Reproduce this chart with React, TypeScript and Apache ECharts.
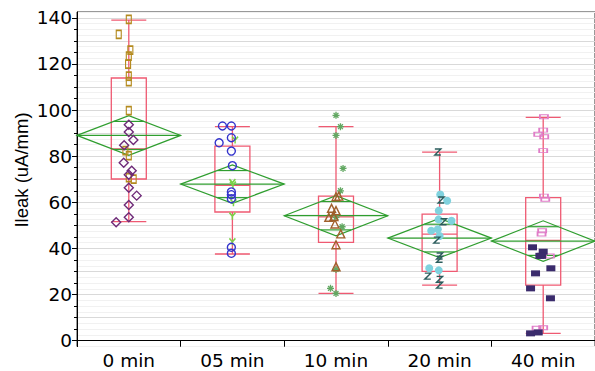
import React, { useEffect, useRef } from "react";
import * as echarts from "echarts";

const categories = ["0 min", "05 min", "10 min", "20 min", "40 min"];
const whiskerLow = [51.6, 37.6, 20.5, 24.1, 3.2];
const q1 = [70.1, 55.8, 42.6, 30.1, 24.1];
const median = [83.2, 67.4, 53.7, 46.2, 43.5];
const q3 = [113.9, 84.4, 62.7, 54.9, 62.0];
const whiskerHigh = [139.0, 92.8, 92.8, 81.8, 96.8];
const means = [89.0, 67.9, 54.2, 44.5, 43.2];
const ciHalf = [8.6, 8.3, 8.7, 8.5, 8.8];
const yTickLabels = [0, 20, 40, 60, 80, 100, 120, 140];
const yMinorTicks = [0, 5, 10, 15, 20, 25, 30, 35, 40, 45, 50, 55, 60, 65, 70, 75, 80, 85, 90, 95, 100, 105, 110, 115, 120, 125, 130, 135, 140];
const yTitle = "Ileak (uA/mm)";

// 0 min
const goldSquareValues = [139.3, 132.8, 126.0, 123.4, 119.9, 114.7, 112.3, 99.7, 82.4, 80.2, 70.7, 70.1];
const goldSquareJitter = [0, -0.097, 0.015, 0, -0.007, 0, 0, 0, -0.033, 0, 0, 0.047];
const purpleDiamondValues = [93.6, 90.5, 87.0, 84.7, 77.2, 73.7, 72.0, 66.3, 62.9, 58.8, 53.5, 51.4];
const purpleDiamondJitter = [0, 0, 0.044, -0.045, -0.049, 0.028, 0, 0, 0.076, 0, 0, -0.122];
// 05 min
const blueCircleValues = [93.1, 93.1, 88.0, 85.8, 82.2, 75.9, 64.5, 63.3, 61.6, 40.5, 37.9];
const blueCircleJitter = [-0.096, -0.01, -0.01, -0.128, -0.01, 0, -0.01, -0.01, -0.01, -0.01, -0.01];
const greenYValues = [87.0, 68.5, 67.5, 59.8, 54.0, 42.9];
const greenYJitter = [0.026, 0, 0.005, 0.01, 0, 0];
// 10 min
const asteriskValues = [97.7, 92.8, 89.0, 74.7, 65.0, 53.5, 49.4, 30.9, 22.7, 20.5];
const asteriskJitter = [0, 0.043, 0, 0.068, 0.043, 0, 0.059, 0, -0.053, 0];
const triangleValues = [62.4, 62.7, 57.4, 56.4, 53.5, 53.8, 50.6, 46.3, 41.6, 32.1];
const triangleJitter = [0, 0.027, -0.043, 0, -0.069, -0.02, -0.01, 0.046, 0, 0];
// 20 min
const zValues = [81.8, 61.0, 51.6, 43.6, 36.7, 35.3, 28.0, 26.6, 24.1];
const zJitter = [-0.017, 0.015, 0.038, -0.027, 0, 0, -0.114, 0, 0];
const cyanValues = [63.4, 60.7, 56.4, 52.6, 52.0, 47.7, 48.3, 45.4, 31.4, 30.5];
const cyanJitter = [0.006, 0.073, -0.008, -0.01, 0.115, -0.081, -0.017, 0, -0.1, -0.008];
// 40 min
const pinkRectValues = [97.1, 91.3, 89.5, 88.4, 82.4, 62.7, 61.3, 47.7, 46.3, 36.7, 5.6, 5.4];
const pinkRectJitter = [0.007, 0, -0.048, 0.01, 0, 0.007, 0.02, -0.01, -0.016, 0.064, 0, -0.064];
const navyRectValues = [40.5, 38.6, 36.8, 36.8, 31.4, 29.2, 22.7, 18.4, 3.2, 3.6];
const navyRectJitter = [-0.103, 0, -0.016, -0.032, 0.074, -0.074, -0.122, 0.07, -0.122, -0.048];

const GREEN = "#2f9e2f";
const RED = "#ef5a72";
const FONT = "DejaVu Sans, Verdana, sans-serif";

const pts = (cat: number, values: number[], jitter: number[]) =>
  values.map((v, i) => [cat + jitter[i], v]);

const markerGroups = [
  { cat: 0, values: goldSquareValues, jitter: goldSquareJitter, symbol: "rect", size: [5, 8], fill: "rgba(0,0,0,0)", stroke: "#b48a1e", bw: 1.4 },
  { cat: 0, values: purpleDiamondValues, jitter: purpleDiamondJitter, symbol: "diamond", size: [9, 9], fill: "rgba(0,0,0,0)", stroke: "#6e2a78", bw: 1.4 },
  { cat: 1, values: greenYValues, jitter: greenYJitter, symbol: "path://M0,0L5,5L10,0M5,5L5,10", size: [6, 7], fill: "rgba(0,0,0,0)", stroke: "#79d246", bw: 1.6 },
  { cat: 1, values: blueCircleValues, jitter: blueCircleJitter, symbol: "circle", size: [8, 8], fill: "rgba(0,0,0,0)", stroke: "#3434cc", bw: 1.4 },
  { cat: 2, values: asteriskValues, jitter: asteriskJitter, symbol: "path://M5,0L5,10M0,5L10,5M1.5,1.5L8.5,8.5M1.5,8.5L8.5,1.5", size: [7, 7], fill: "rgba(0,0,0,0)", stroke: "#62a862", bw: 1.3 },
  { cat: 2, values: triangleValues, jitter: triangleJitter, symbol: "triangle", size: [8, 8], fill: "rgba(0,0,0,0)", stroke: "#a0602c", bw: 1.4 },
  { cat: 3, values: cyanValues, jitter: cyanJitter, symbol: "circle", size: [8, 8], fill: "#80d2de", stroke: "#80d2de", bw: 0 },
  { cat: 3, values: zValues, jitter: zJitter, symbol: "path://M1,1L9,1L1,9L9,9", size: [6, 6], fill: "rgba(0,0,0,0)", stroke: "#2a5c5c", bw: 1.4 },
  { cat: 4, values: pinkRectValues, jitter: pinkRectJitter, symbol: "rect", size: [8, 4], fill: "rgba(0,0,0,0)", stroke: "#e07cc8", bw: 1.3 },
  { cat: 4, values: navyRectValues, jitter: navyRectJitter, symbol: "rect", size: [9, 6], fill: "#3a2b6c", stroke: "#3a2b6c", bw: 0 },
];

export default function App() {
  const ref = useRef<HTMLDivElement>(null);
  useEffect(() => {
    document.body.style.margin = "0";
    if (!ref.current) return;
    const chart = echarts.init(ref.current, null, { renderer: "svg" });
    const yBase = { type: "value", min: -2.5, max: 142.5, position: "left" };
    const option: any = {
      animation: false,
      backgroundColor: "#ffffff",
      textStyle: { fontFamily: FONT },
      grid: { left: 77, top: 12, width: 520, bottom: 24.5, containLabel: false, show: true, borderColor: "#333", borderWidth: 1, backgroundColor: "rgba(0,0,0,0)" },
      graphic: [
        {
          type: "text",
          x: 21,
          y: 170,
          rotation: Math.PI / 2,
          style: { text: yTitle, fill: "#000", font: "18.5px Liberation Sans, Arial, sans-serif", textAlign: "center", textVerticalAlign: "middle" },
        },
      ],
      xAxis: [
        {
          type: "category",
          data: categories,
          boundaryGap: true,
          axisLine: { show: true, lineStyle: { color: "#000", width: 1 } },
          axisTick: { show: true, length: 6, lineStyle: { color: "#000" } },
          axisLabel: { color: "#000", fontSize: 18.5, margin: 4, fontFamily: FONT },
          splitLine: { show: false },
        },
        { type: "value", min: -0.5, max: 4.5, show: false },
      ],
      yAxis: [
        {
          ...yBase,
          interval: 2.5,
          axisLine: { show: false },
          axisTick: { show: false },
          axisLabel: { show: false },
          splitLine: {
            show: true,
            lineStyle: { color: ["#f1f1f1", "#d9d9d9", "#f1f1f1", "#f1f1f1"], width: 1 },
          },
        },
        {
          ...yBase,
          axisLine: { show: true, lineStyle: { color: "#000", width: 1 } },
          axisTick: { show: true, length: 3, customValues: yMinorTicks, lineStyle: { color: "#000" } },
          axisLabel: { show: false },
          splitLine: { show: false },
        },
        {
          ...yBase,
          axisLine: { show: false },
          axisTick: { show: true, length: 5, customValues: yTickLabels, lineStyle: { color: "#000" } },
          axisLabel: { show: true, customValues: yTickLabels, fontSize: 18.5, color: "#000", margin: 5, fontFamily: FONT },
          splitLine: { show: false },
        },
      ],
      series: [
        {
          type: "boxplot",
          xAxisIndex: 0,
          yAxisIndex: 0,
          boxWidth: [35, 35],
          data: categories.map((_, i) => [whiskerLow[i], q1[i], median[i], q3[i], whiskerHigh[i]]),
          itemStyle: { color: "rgba(0,0,0,0)", borderColor: RED, borderWidth: 1.3 },
          z: 2,
        },
        {
          type: "custom",
          xAxisIndex: 1,
          yAxisIndex: 0,
          data: categories.map((_, i) => [i, means[i], ciHalf[i]]),
          renderItem: (params: any, api: any) => {
            const i = api.value(0);
            const m = api.value(1);
            const c = api.value(2);
            const L = api.coord([i - 0.5, m]);
            const R = api.coord([i + 0.5, m]);
            const T = api.coord([i, m + c]);
            const B = api.coord([i, m - c]);
            const k = c / Math.SQRT2;
            const hw = 0.5 * (1 - 1 / Math.SQRT2);
            const a1 = api.coord([i - hw, m + k]);
            const a2 = api.coord([i + hw, m + k]);
            const b1 = api.coord([i - hw, m - k]);
            const b2 = api.coord([i + hw, m - k]);
            const st = { stroke: GREEN, lineWidth: 1.2, fill: "none" };
            return {
              type: "group",
              children: [
                { type: "polygon", shape: { points: [L, T, R, B] }, style: st },
                { type: "line", shape: { x1: L[0], y1: L[1], x2: R[0], y2: R[1] }, style: st },
                { type: "line", shape: { x1: a1[0], y1: a1[1], x2: a2[0], y2: a2[1] }, style: st },
                { type: "line", shape: { x1: b1[0], y1: b1[1], x2: b2[0], y2: b2[1] }, style: st },
              ],
            };
          },
          z: 3,
        },
        ...markerGroups.map((g) => ({
          type: "scatter",
          xAxisIndex: 1,
          yAxisIndex: 0,
          data: pts(g.cat, g.values, g.jitter),
          symbol: g.symbol,
          symbolSize: g.size,
          itemStyle: { color: g.fill, borderColor: g.stroke, borderWidth: g.bw, opacity: 1 },
          z: 4,
        })),
      ],
    };
    chart.setOption(option);
    return () => chart.dispose();
  }, []);
  return <div ref={ref} style={{ width: 595, height: 371 }} />;
}
